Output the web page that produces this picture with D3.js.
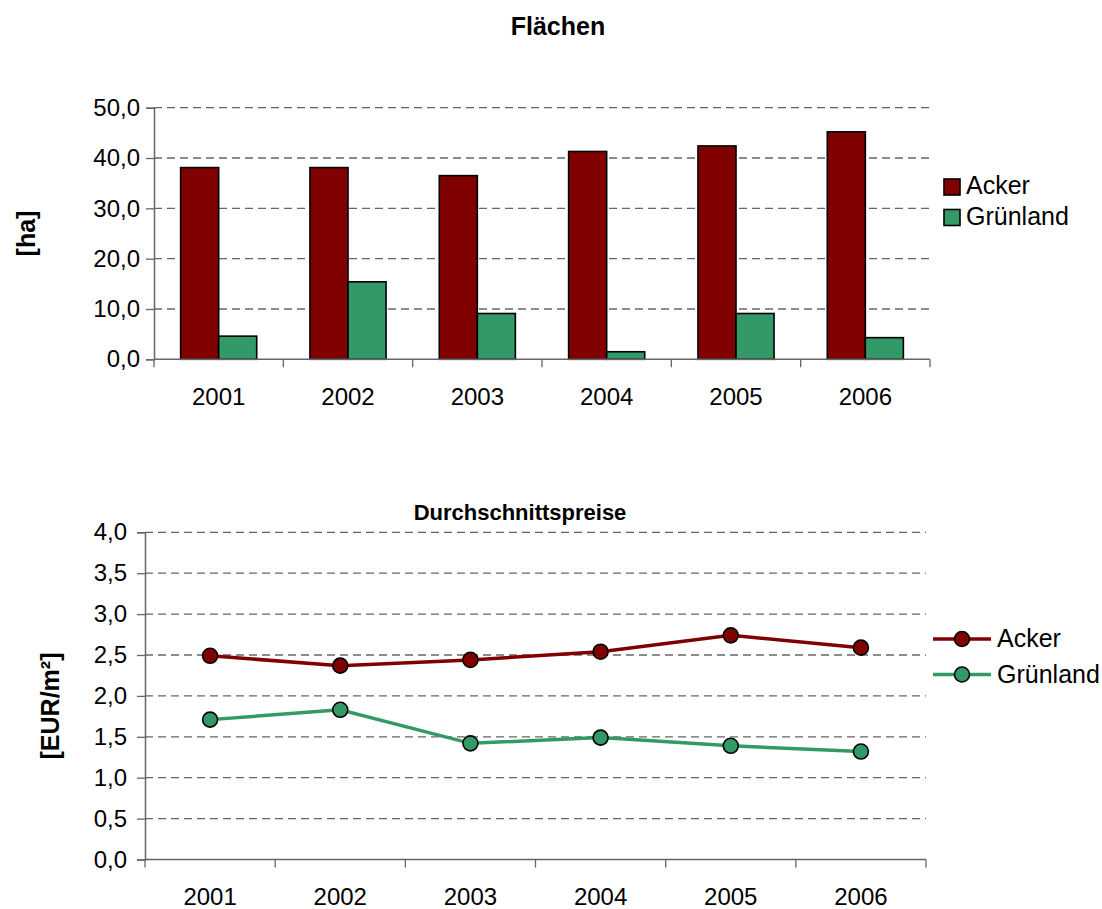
<!DOCTYPE html>
<html><head><meta charset="utf-8">
<script src="https://cdn.jsdelivr.net/npm/d3@7"></script>
<style>
body{margin:0;background:#fff;}
text{font-family:"Liberation Sans",Arial,sans-serif;fill:#000;}
</style></head>
<body><svg id="c" width="1102" height="909"></svg>
<script>
const years = ["2001","2002","2003","2004","2005","2006"];
const seriesNames = ["Acker","Grünland"];
const areaAcker = [38.1, 38.1, 36.5, 41.3, 42.4, 45.2];
const areaGruen = [4.6, 15.4, 9.1, 1.5, 9.1, 4.3];
const priceAcker = [2.49, 2.37, 2.44, 2.54, 2.74, 2.59];
const priceGruen = [1.71, 1.83, 1.42, 1.49, 1.39, 1.32];
const areaTicks = [0,10,20,30,40,50];
const priceTicks = [0,0.5,1,1.5,2,2.5,3,3.5,4];
const colors = ["#800000","#339966"];

const svg = d3.select("#c");
const fmt = v => d3.format(".1f")(v).replace(".", ",");

function grid(g, y, ticks, x0, x1){
  g.selectAll("line.grid").data(ticks.filter(t=>t>0)).join("line")
    .attr("x1",x0).attr("x2",x1).attr("y1",d=>y(d)).attr("y2",d=>y(d))
    .attr("stroke","#666").attr("stroke-width",1.3).attr("stroke-dasharray","8,5");
}
function yAxis(g, y, ticks, x0, labelGap){
  const ax = g.append("g").attr("transform",`translate(${x0},0)`)
    .call(d3.axisLeft(y).tickValues(ticks).tickFormat(fmt).tickSize(8).tickPadding(labelGap));
  ax.select(".domain").attr("stroke","#666").attr("stroke-width",1.5);
  ax.selectAll(".tick line").attr("stroke","#666").attr("stroke-width",1.3);
  ax.selectAll("text").style("font-size","24px").attr("fill","#000");
}
function xAxis(g, x, y0, x0, x1, labelY){
  g.append("line").attr("x1",x0).attr("x2",x1).attr("y1",y0).attr("y2",y0)
    .attr("stroke","#666").attr("stroke-width",1.5);
  const bounds = years.map(d=>x(d)).concat([x1]);
  g.selectAll("line.xt").data(bounds).join("line")
    .attr("x1",d=>d).attr("x2",d=>d).attr("y1",y0).attr("y2",y0+8)
    .attr("stroke","#666").attr("stroke-width",1.3);
  g.selectAll("text.xl").data(years).join("text")
    .attr("x",d=>x(d)+x.bandwidth()/2).attr("y",labelY)
    .attr("text-anchor","middle").style("font-size","24px").text(d=>d);
}

// ---------- Top chart: Flächen ----------
{
  const L=154, R=930, T=107.7, B=359.3;
  const g = svg.append("g");
  const x = d3.scaleBand().domain(years).range([L,R]).padding(0);
  const y = d3.scaleLinear().domain([0,50]).range([B,T]);
  grid(g,y,areaTicks,L,R);
  const inner = d3.scaleBand().domain(seriesNames).range([0,x.bandwidth()]).paddingOuter(0.7).paddingInner(0);
  const data = [areaAcker, areaGruen];
  seriesNames.forEach((s,si)=>{
    g.selectAll(null).data(years).join("rect")
      .attr("x",d=>x(d)+inner(s)).attr("width",inner.bandwidth())
      .attr("y",(d,i)=>y(data[si][i])).attr("height",(d,i)=>B-y(data[si][i]))
      .attr("fill",colors[si]).attr("stroke","#000").attr("stroke-width",1.6);
  });
  yAxis(g,y,areaTicks,L,6);
  xAxis(g,x,B,L,R,405);
  svg.append("text").attr("x",558).attr("y",35).attr("text-anchor","middle")
    .style("font-size","25px").style("font-weight","bold").text("Flächen");
  svg.append("text").attr("transform",`translate(35,${(T+B)/2}) rotate(-90)`)
    .attr("text-anchor","middle").style("font-size","25px").style("font-weight","bold").text("[ha]");
  const lg = svg.append("g");
  seriesNames.forEach((s,i)=>{
    const yy = 179 + i*30.5;
    lg.append("rect").attr("x",944).attr("y",yy).attr("width",16).attr("height",16)
      .attr("fill",colors[i]).attr("stroke","#000").attr("stroke-width",1.6);
    lg.append("text").attr("x",966).attr("y",yy+15).style("font-size","25px").text(s);
  });
}

// ---------- Bottom chart: Durchschnittspreise ----------
{
  const L=145, R=926, T=532.3, B=859.5;
  const g = svg.append("g");
  const x = d3.scaleBand().domain(years).range([L,R]).padding(0);
  const y = d3.scaleLinear().domain([0,4]).range([B,T]);
  grid(g,y,priceTicks,L,R);
  yAxis(g,y,priceTicks,L,10);
  xAxis(g,x,B,L,R,905);
  const data=[priceAcker, priceGruen];
  const line = d3.line().x((d,i)=>x(years[i])+x.bandwidth()/2).y(d=>y(d));
  seriesNames.forEach((s,si)=>{
    g.append("path").datum(data[si]).attr("d",line).attr("fill","none")
      .attr("stroke",colors[si]).attr("stroke-width",3.5);
    g.selectAll(null).data(data[si]).join("circle")
      .attr("cx",(d,i)=>x(years[i])+x.bandwidth()/2).attr("cy",d=>y(d)).attr("r",7.5)
      .attr("fill",colors[si]).attr("stroke","#000").attr("stroke-width",1.6);
  });
  svg.append("text").attr("x",520).attr("y",520).attr("text-anchor","middle")
    .style("font-size","22px").style("font-weight","bold").text("Durchschnittspreise");
  svg.append("text").attr("transform",`translate(59,706) rotate(-90)`)
    .attr("text-anchor","middle").style("font-size","25px").style("font-weight","bold").text("[EUR/m²]");
  const lg = svg.append("g");
  seriesNames.forEach((s,i)=>{
    const yy = 639 + i*35.5;
    lg.append("line").attr("x1",933).attr("x2",991).attr("y1",yy).attr("y2",yy)
      .attr("stroke",colors[i]).attr("stroke-width",3.5);
    lg.append("circle").attr("cx",962).attr("cy",yy).attr("r",7.5)
      .attr("fill",colors[i]).attr("stroke","#000").attr("stroke-width",1.6);
    lg.append("text").attr("x",997).attr("y",yy+8).style("font-size","25px").text(s);
  });
}
</script></body></html>
